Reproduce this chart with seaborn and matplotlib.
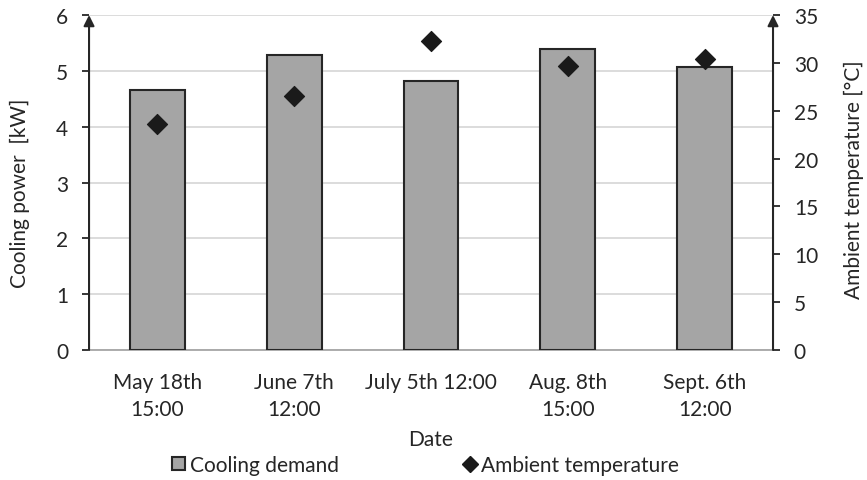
import matplotlib
matplotlib.use("Agg")
import matplotlib.pyplot as plt
import seaborn as sns
import pandas as pd
from matplotlib.lines import Line2D
from matplotlib.patches import Patch

dates = ["May 18th\n15:00", "June 7th\n12:00", "July 5th 12:00", "Aug. 8th\n15:00", "Sept. 6th\n12:00"]
cooling_kw = [4.66, 5.29, 4.82, 5.40, 5.07]
ambient_c = [23.6, 26.5, 32.25, 29.7, 30.4]
left_ticks = [0, 1, 2, 3, 4, 5, 6]
right_ticks = [0, 5, 10, 15, 20, 25, 30, 35]

df = pd.DataFrame({"Date": dates, "Cooling": cooling_kw, "Ambient": ambient_c})

sns.set_theme(style="white")
plt.rcParams["font.family"] = ["Lato", "DejaVu Sans"]

fig = plt.figure(figsize=(8.67, 4.81), dpi=100)
ax = fig.add_axes([0.1027, 0.2703, 0.7889, 0.6964])

bar_color = "#A5A5A5"
edge_color = "#262626"
text_color = "#262626"
fs = 15

sns.barplot(data=df, x="Date", y="Cooling", color=bar_color, width=0.4,
            edgecolor=edge_color, linewidth=1.5, saturation=1, ax=ax, zorder=3)
ax.set_ylim(0, 6)
ax.set_xlim(-0.5, 4.5)
ax.set_yticks(left_ticks)
ax.yaxis.grid(True, color="#D9D9D9", linewidth=1.3, zorder=0)
ax.set_axisbelow(True)
ax.set_ylabel("Cooling power  [kW]", fontsize=fs, color=text_color)
ax.yaxis.set_label_coords(-0.086, 0.47)
ax.set_xlabel("Date", fontsize=fs, color=text_color)
ax.xaxis.set_label_coords(0.5, -0.235)
ax.tick_params(axis="y", direction="out", length=5, width=1.3, color=text_color,
               labelsize=fs, labelcolor=text_color, left=True, pad=10)
ax.tick_params(axis="x", length=0, labelsize=fs, labelcolor=text_color, pad=16)
for lbl in ax.get_xticklabels():
    lbl.set_linespacing(1.4)
for s in ["top", "right", "left"]:
    ax.spines[s].set_visible(False)
ax.spines["bottom"].set_color("#A6A6A6")
ax.spines["bottom"].set_linewidth(1.3)

ax2 = ax.twinx()
sns.scatterplot(data=df, x="Date", y="Ambient", marker="D", s=105, color="#1A1A1A",
                edgecolor="#1A1A1A", ax=ax2, zorder=5, legend=False)
ax2.set_ylim(0, 35)
ax2.set_xlim(-0.5, 4.5)
ax2.set_yticks(right_ticks)
ax2.set_ylabel("Ambient temperature [°C]", fontsize=fs, color=text_color)
ax2.yaxis.set_label_coords(1.103, 0.51)
ax2.tick_params(axis="y", direction="out", length=5, width=1.3, color=text_color,
                labelsize=fs, labelcolor=text_color, right=True, pad=10)
for s in ["top", "right", "left", "bottom"]:
    ax2.spines[s].set_visible(False)
ax2.grid(False)

arrow = dict(arrowstyle="-|>", color=text_color, lw=1.5, mutation_scale=16, shrinkA=0, shrinkB=0)
ax.annotate("", xy=(0, 1.0), xytext=(0, 0), xycoords="axes fraction", textcoords="axes fraction",
            arrowprops=arrow, annotation_clip=False)
ax.annotate("", xy=(1, 1.0), xytext=(1, 0), xycoords="axes fraction", textcoords="axes fraction",
            arrowprops=arrow, annotation_clip=False)

handles = [Patch(facecolor=bar_color, edgecolor=edge_color, linewidth=1.5, label="Cooling demand"),
           Line2D([], [], marker="D", linestyle="none", color="#1A1A1A", markersize=8,
                  label="Ambient temperature")]
fig.legend(handles=handles, loc="center", bbox_to_anchor=(0.491, 0.031), ncol=2, frameon=False,
           fontsize=fs, handlelength=0.6, handleheight=0.6, handletextpad=0.25, columnspacing=6.0,
           labelcolor=text_color)

fig.savefig("out.png", dpi=100)
